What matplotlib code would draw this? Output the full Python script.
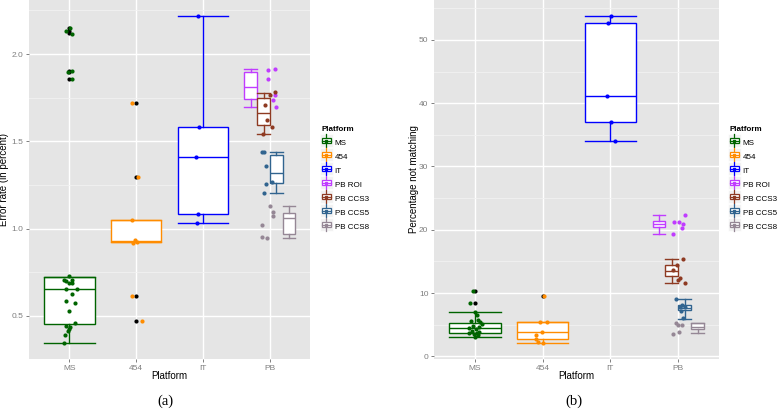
import numpy as np
import matplotlib
matplotlib.use("Agg")
from matplotlib import pyplot as plt
from matplotlib.patches import Rectangle
from matplotlib.lines import Line2D
from matplotlib.legend_handler import HandlerBase

plt.rcParams['font.family'] = ['Liberation Sans', 'DejaVu Sans']

# Groups and platforms
groups = ["MS", "454", "IT", "PB ROI", "PB CCS3", "PB CCS5", "PB CCS8"]
platforms = ["MS", "454", "IT", "PB"]
group_platform = [1, 2, 3, 4, 4, 4, 4]
colors = ["#006400", "#FF8C00", "#0000FF", "#C03CFF", "#8E3A22", "#31648F", "#958795"]

# (a) Error rate: box statistics
err_whislo = [0.345, 0.921, 1.034, 1.697, 1.540, 1.205, 0.947]
err_q1 = [0.454, 0.921, 1.086, 1.741, 1.592, 1.260, 0.968]
err_med = [0.655, 0.931, 1.408, 1.812, 1.663, 1.320, 1.061]
err_q3 = [0.724, 1.052, 1.582, 1.897, 1.749, 1.420, 1.088]
err_whishi = [0.724, 1.052, 2.220, 1.912, 1.778, 1.439, 1.132]
err_outliers = [[2.15, 2.13, 2.12, 1.905, 1.90, 1.855], [1.72, 1.293, 0.615, 0.471], [], [], [], [], []]

# (a) individual samples and their jitter
err_points = [
    [0.73, 0.707, 0.70, 0.707, 0.69, 0.69, 0.653, 0.653, 0.625, 0.586, 0.576, 0.527,
     0.458, 0.443, 0.435, 0.423, 0.415, 0.39, 0.347, 2.13, 2.15, 2.115, 1.90, 1.905, 1.855],
    [1.052, 0.935, 0.925, 0.92, 1.72, 1.293, 0.615, 0.471],
    [2.22, 1.582, 1.408, 1.086, 1.034],
    [1.91, 1.915, 1.86, 1.765, 1.736, 1.697],
    [1.764, 1.78, 1.707, 1.621, 1.582, 1.54],
    [1.44, 1.439, 1.36, 1.27, 1.253, 1.207],
    [1.13, 1.095, 1.075, 1.023, 0.95, 0.948],
]
err_jitter = [
    [-0.005, -0.083, -0.044, 0.045, -0.005, 0.05, -0.054, 0.11, 0.04, -0.054, 0.084, -0.005,
     0.084, -0.044, 0.02, 0.0, -0.015, -0.06, -0.07, -0.04, 0.01, 0.045, -0.02, 0.05, 0.04],
    [-0.06, -0.015, 0.01, -0.04, -0.064, 0.025, -0.06, 0.094],
    [-0.08, -0.06, -0.1, -0.07, -0.09],
    [-0.025, 0.08, -0.03, 0.07, 0.05, 0.09],
    [0.0, 0.07, -0.08, -0.05, 0.03, -0.1],
    [-0.12, -0.09, -0.055, 0.035, -0.055, -0.09],
    [0.0, 0.05, 0.04, -0.11, -0.11, -0.04],
]

# (b) Percentage not matching: box statistics
pct_whislo = [3.1, 2.05, 34.1, 19.4, 11.6, 5.9, 3.73]
pct_q1 = [3.63, 2.68, 37.0, 20.5, 12.7, 7.3, 4.26]
pct_med = [4.5, 3.78, 41.2, 20.9, 13.5, 7.7, 4.58]
pct_q3 = [5.3, 5.42, 52.6, 21.4, 14.5, 8.1, 5.2]
pct_whishi = [7.0, 5.5, 53.8, 22.3, 15.4, 9.1, 5.3]
pct_outliers = [[10.36, 8.42], [9.5], [], [], [], [], []]

pct_points = [
    [10.36, 8.42, 7.05, 6.52, 5.73, 5.6, 5.47, 5.1, 4.79, 4.58, 4.4, 4.26, 4.05, 3.89,
     3.75, 3.63, 3.5, 3.36, 3.1],
    [9.5, 5.5, 5.5, 3.9, 3.36, 2.8, 2.3, 2.05],
    [53.8, 52.6, 41.2, 37.0, 34.1],
    [22.3, 21.2, 21.2, 20.9, 20.2, 19.4],
    [15.4, 14.5, 13.6, 12.3, 12.0, 11.6],
    [9.1, 8.1, 7.8, 7.8, 7.2, 6.0],
    [5.3, 5.0, 4.9, 3.9, 3.6],
]
pct_jitter = [
    [-0.02, -0.07, 0.0, 0.03, 0.05, -0.05, 0.08, 0.1, -0.02, 0.06, -0.08, 0.02, -0.04,
     0.07, -0.09, 0.03, -0.01, 0.05, 0.0],
    [0.025, -0.04, 0.065, -0.015, -0.1, -0.09, -0.065, 0.01],
    [0.01, -0.03, -0.045, 0.01, 0.07],
    [0.1, -0.06, 0.01, 0.07, 0.055, -0.08],
    [0.07, -0.02, -0.08, 0.025, 0.0, 0.1],
    [-0.04, 0.055, 0.025, 0.095, 0.045, 0.07],
    [-0.03, 0.0, 0.055, 0.015, -0.075],
]


class BoxKey(HandlerBase):
    # small boxplot glyph like the ggplot legend key
    def create_artists(self, legend, orig, xd, yd, w, h, fs, trans):
        c = orig.get_color()
        cx = xd + w / 2
        bg = Rectangle((xd - 1, yd - 2), w + 2, h + 4, fc="#F2F2F2", ec="white", lw=0.5, transform=trans)
        whisk = Line2D([cx, cx], [yd - 2, yd + h + 2], color=c, lw=0.9, transform=trans)
        box = Rectangle((xd + 0.5, yd + h * 0.1), w - 1, h * 0.8, fc="white", ec=c, lw=0.9, transform=trans)
        med = Line2D([xd + 0.5, xd + w - 0.5], [yd + h / 2] * 2, color=c, lw=0.9, transform=trans)
        dot = Line2D([cx], [yd + h / 2], marker="s", ms=1.5, color=c, transform=trans)
        return [bg, whisk, box, med, dot]


def box_layout(i):
    # ggplot style dodge inside the PB platform
    base = group_platform[i]
    if base == 4:
        k = i - 3
        return base + (k - 1.5) * 0.19, 0.19
    return base, 0.76


def draw_panel(ax, whislo, q1, med, q3, whishi, outliers, points, jitter):
    ax.set_facecolor("#E5E5E5")
    for i, g in enumerate(groups):
        pos, w = box_layout(i)
        c = colors[i]
        stats = [dict(whislo=whislo[i], q1=q1[i], med=med[i], q3=q3[i], whishi=whishi[i], fliers=[])]
        lp = dict(color=c, linewidth=1.0)
        ax.bxp(stats, positions=[pos], widths=w, capwidths=w, patch_artist=True, showfliers=False,
               boxprops=dict(facecolor="white", edgecolor=c, linewidth=1.0),
               medianprops=lp, whiskerprops=lp, capprops=lp, manage_ticks=False, zorder=2)
        if outliers[i]:
            ax.scatter([pos] * len(outliers[i]), outliers[i], s=9, color="black", lw=0, zorder=3)
        xs = group_platform[i] + np.array(jitter[i])
        ax.scatter(xs, points[i], s=9, color=c, lw=0, zorder=4)
    ax.set_xlim(0.4, 4.6)
    ax.set_xticks([1, 2, 3, 4])
    ax.set_xticklabels(platforms)
    ax.grid(True, which="major", color="white", lw=1.0)
    ax.grid(True, which="minor", axis="y", color="#F2F2F2", lw=0.6)
    ax.set_axisbelow(True)
    for s in ax.spines.values():
        s.set_visible(False)
    ax.tick_params(which="major", length=2.5, width=0.7, color="#7F7F7F", labelcolor="#7F7F7F",
                   labelsize=6, pad=1.5)
    ax.tick_params(which="minor", length=0)
    ax.set_xlabel("Platform", fontsize=7)
    ax.xaxis.set_label_coords(0.5, -0.034)


fig = plt.figure(figsize=(7.79, 4.11), dpi=100)
ax_a = fig.add_axes([29 / 779, 52 / 411, 281 / 779, 359 / 411])
ax_b = fig.add_axes([434 / 779, 52 / 411, 285 / 779, 359 / 411])

draw_panel(ax_a, err_whislo, err_q1, err_med, err_q3, err_whishi, err_outliers, err_points, err_jitter)
ax_a.set_ylim(0.253, 2.31)
ax_a.set_yticks([0.5, 1.0, 1.5, 2.0])
ax_a.set_yticks([0.75, 1.25, 1.75, 2.25], minor=True)
ax_a.set_ylabel("Error rate (in percent)", fontsize=7)
ax_a.yaxis.set_label_coords(-0.071, 0.5)

draw_panel(ax_b, pct_whislo, pct_q1, pct_med, pct_q3, pct_whishi, pct_outliers, pct_points, pct_jitter)
ax_b.set_ylim(-0.42, 56.3)
ax_b.set_yticks([0, 10, 20, 30, 40, 50])
ax_b.set_yticks([5, 15, 25, 35, 45, 55], minor=True)
ax_b.set_ylabel("Percentage not matching", fontsize=7)
ax_b.yaxis.set_label_coords(-0.053, 0.5)

handles = [Line2D([], [], color=c) for c in colors]
for lx in [321, 729]:
    leg = fig.legend(handles, groups, handler_map={Line2D: BoxKey()}, loc="upper left",
                     bbox_to_anchor=(lx / 779, 1 - 126 / 411), frameon=False, fontsize=5.8,
                     title="Platform", title_fontproperties={"weight": "bold", "size": 5.8},
                     alignment="left", handlelength=1.3, handleheight=1.0, handletextpad=0.4,
                     labelspacing=0.7, borderpad=0, borderaxespad=0)

fig.text(165 / 779, 1 - 401 / 411, "(a)", ha="center", va="center", fontsize=10.5, family="Liberation Serif")
fig.text(574 / 779, 1 - 401 / 411, "(b)", ha="center", va="center", fontsize=10.5, family="Liberation Serif")

fig.savefig("out.png", dpi=100)
